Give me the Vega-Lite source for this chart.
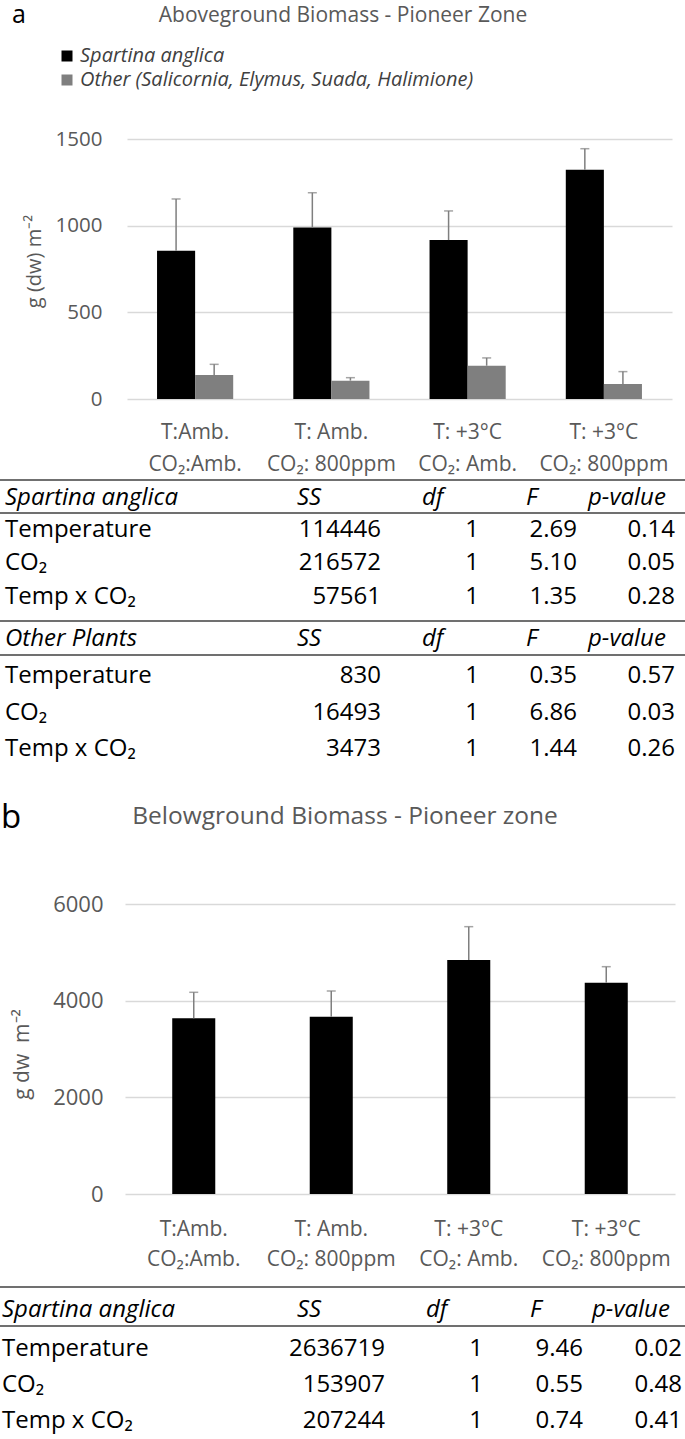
{
  "$schema": "https://vega.github.io/schema/vega-lite/v6.json",
  "width": 685,
  "height": 1439,
  "padding": 0,
  "autosize": {"type": "none"},
  "background": "#ffffff",
  "config": {"font": "Open Sans", "view": {"stroke": null}},
  "datasets": {
    "above": [
      {"treatment": "T:Amb.|CO₂:Amb.", "species": "Spartina anglica", "mean": 855, "upper": 1154},
      {"treatment": "T:Amb.|CO₂:Amb.", "species": "Other (Salicornia, Elymus, Suada, Halimione)", "mean": 138, "upper": 200},
      {"treatment": "T: Amb.|CO₂: 800ppm", "species": "Spartina anglica", "mean": 990, "upper": 1190},
      {"treatment": "T: Amb.|CO₂: 800ppm", "species": "Other (Salicornia, Elymus, Suada, Halimione)", "mean": 106, "upper": 123},
      {"treatment": "T: +3°C|CO₂: Amb.", "species": "Spartina anglica", "mean": 917, "upper": 1085},
      {"treatment": "T: +3°C|CO₂: Amb.", "species": "Other (Salicornia, Elymus, Suada, Halimione)", "mean": 192, "upper": 237},
      {"treatment": "T: +3°C|CO₂: 800ppm", "species": "Spartina anglica", "mean": 1323, "upper": 1444},
      {"treatment": "T: +3°C|CO₂: 800ppm", "species": "Other (Salicornia, Elymus, Suada, Halimione)", "mean": 87, "upper": 158}
    ],
    "below": [
      {"treatment": "T:Amb.|CO₂:Amb.", "mean": 3635, "upper": 4173},
      {"treatment": "T: Amb.|CO₂: 800ppm", "mean": 3669, "upper": 4200},
      {"treatment": "T: +3°C|CO₂: Amb.", "mean": 4841, "upper": 5531},
      {"treatment": "T: +3°C|CO₂: 800ppm", "mean": 4372, "upper": 4703}
    ],
    "cells": [
      {"tbl": "a", "row": 0, "col": 0, "role": "head", "text": "Spartina anglica"},
      {"tbl": "a", "row": 0, "col": 1, "role": "head", "text": "SS"},
      {"tbl": "a", "row": 0, "col": 2, "role": "head", "text": "df"},
      {"tbl": "a", "row": 0, "col": 3, "role": "head", "text": "F"},
      {"tbl": "a", "row": 0, "col": 4, "role": "head", "text": "p-value"},
      {"tbl": "a", "row": 1, "col": 0, "role": "label", "text": "Temperature"},
      {"tbl": "a", "row": 1, "col": 1, "role": "num", "text": "114446"},
      {"tbl": "a", "row": 1, "col": 2, "role": "num", "text": "1"},
      {"tbl": "a", "row": 1, "col": 3, "role": "num", "text": "2.69"},
      {"tbl": "a", "row": 1, "col": 4, "role": "num", "text": "0.14"},
      {"tbl": "a", "row": 2, "col": 0, "role": "label", "text": "CO₂"},
      {"tbl": "a", "row": 2, "col": 1, "role": "num", "text": "216572"},
      {"tbl": "a", "row": 2, "col": 2, "role": "num", "text": "1"},
      {"tbl": "a", "row": 2, "col": 3, "role": "num", "text": "5.10"},
      {"tbl": "a", "row": 2, "col": 4, "role": "num", "text": "0.05"},
      {"tbl": "a", "row": 3, "col": 0, "role": "label", "text": "Temp x CO₂"},
      {"tbl": "a", "row": 3, "col": 1, "role": "num", "text": "57561"},
      {"tbl": "a", "row": 3, "col": 2, "role": "num", "text": "1"},
      {"tbl": "a", "row": 3, "col": 3, "role": "num", "text": "1.35"},
      {"tbl": "a", "row": 3, "col": 4, "role": "num", "text": "0.28"},
      {"tbl": "a", "row": 4, "col": 0, "role": "head", "text": "Other Plants"},
      {"tbl": "a", "row": 4, "col": 1, "role": "head", "text": "SS"},
      {"tbl": "a", "row": 4, "col": 2, "role": "head", "text": "df"},
      {"tbl": "a", "row": 4, "col": 3, "role": "head", "text": "F"},
      {"tbl": "a", "row": 4, "col": 4, "role": "head", "text": "p-value"},
      {"tbl": "a", "row": 5, "col": 0, "role": "label", "text": "Temperature"},
      {"tbl": "a", "row": 5, "col": 1, "role": "num", "text": "830"},
      {"tbl": "a", "row": 5, "col": 2, "role": "num", "text": "1"},
      {"tbl": "a", "row": 5, "col": 3, "role": "num", "text": "0.35"},
      {"tbl": "a", "row": 5, "col": 4, "role": "num", "text": "0.57"},
      {"tbl": "a", "row": 6, "col": 0, "role": "label", "text": "CO₂"},
      {"tbl": "a", "row": 6, "col": 1, "role": "num", "text": "16493"},
      {"tbl": "a", "row": 6, "col": 2, "role": "num", "text": "1"},
      {"tbl": "a", "row": 6, "col": 3, "role": "num", "text": "6.86"},
      {"tbl": "a", "row": 6, "col": 4, "role": "num", "text": "0.03"},
      {"tbl": "a", "row": 7, "col": 0, "role": "label", "text": "Temp x CO₂"},
      {"tbl": "a", "row": 7, "col": 1, "role": "num", "text": "3473"},
      {"tbl": "a", "row": 7, "col": 2, "role": "num", "text": "1"},
      {"tbl": "a", "row": 7, "col": 3, "role": "num", "text": "1.44"},
      {"tbl": "a", "row": 7, "col": 4, "role": "num", "text": "0.26"},
      {"tbl": "b", "row": 0, "col": 0, "role": "head", "text": "Spartina anglica"},
      {"tbl": "b", "row": 0, "col": 1, "role": "head", "text": "SS"},
      {"tbl": "b", "row": 0, "col": 2, "role": "head", "text": "df"},
      {"tbl": "b", "row": 0, "col": 3, "role": "head", "text": "F"},
      {"tbl": "b", "row": 0, "col": 4, "role": "head", "text": "p-value"},
      {"tbl": "b", "row": 1, "col": 0, "role": "label", "text": "Temperature"},
      {"tbl": "b", "row": 1, "col": 1, "role": "num", "text": "2636719"},
      {"tbl": "b", "row": 1, "col": 2, "role": "num", "text": "1"},
      {"tbl": "b", "row": 1, "col": 3, "role": "num", "text": "9.46"},
      {"tbl": "b", "row": 1, "col": 4, "role": "num", "text": "0.02"},
      {"tbl": "b", "row": 2, "col": 0, "role": "label", "text": "CO₂"},
      {"tbl": "b", "row": 2, "col": 1, "role": "num", "text": "153907"},
      {"tbl": "b", "row": 2, "col": 2, "role": "num", "text": "1"},
      {"tbl": "b", "row": 2, "col": 3, "role": "num", "text": "0.55"},
      {"tbl": "b", "row": 2, "col": 4, "role": "num", "text": "0.48"},
      {"tbl": "b", "row": 3, "col": 0, "role": "label", "text": "Temp x CO₂"},
      {"tbl": "b", "row": 3, "col": 1, "role": "num", "text": "207244"},
      {"tbl": "b", "row": 3, "col": 2, "role": "num", "text": "1"},
      {"tbl": "b", "row": 3, "col": 3, "role": "num", "text": "0.74"},
      {"tbl": "b", "row": 3, "col": 4, "role": "num", "text": "0.41"}
    ],
    "lines": [
      {"tbl": "a", "row": -0.5},
      {"tbl": "a", "row": 0.5},
      {"tbl": "a", "row": 3.5},
      {"tbl": "a", "row": 4.5},
      {"tbl": "b", "row": -0.5},
      {"tbl": "b", "row": 0.5}
    ],
    "captions": [
      {"panel": "a", "letter": "a", "text": "Aboveground Biomass - Pioneer Zone"},
      {"panel": "b", "letter": "b", "text": "Belowground Biomass - Pioneer zone"}
    ]
  },
  "layer": [
    {
      "data": {"name": "above"},
      "encoding": {
        "x": {"field": "treatment", "type": "nominal", "sort": null,
          "scale": {"range": [127, 672], "paddingInner": 0.441, "paddingOuter": 0.2205},
          "axis": {"orient": "bottom", "offset": -1040, "labelExpr": "split(datum.value, '|')", "labelAngle": 0, "labelFontSize": 21, "labelColor": "#595959", "labelPadding": 22, "labelLineHeight": 32, "labelOverlap": false, "domain": false, "ticks": false, "tickSize": 0, "grid": false, "title": null}},
        "xOffset": {"field": "species", "type": "nominal", "sort": null, "scale": {"paddingInner": 0, "paddingOuter": 0}}
      },
      "layer": [
        {
          "mark": {"type": "bar"},
          "encoding": {
            "y": {"field": "mean", "type": "quantitative", "title": "g (dw) m⁻²",
              "scale": {"domain": [0, 1500], "range": [399, 139], "nice": false, "zero": true},
              "axis": {"orient": "left", "offset": -127, "values": [0, 500, 1000, 1500], "format": "d", "domain": false, "ticks": false, "tickSize": 0, "labelPadding": 25, "labelFontSize": 20.5, "labelColor": "#595959", "labelOverlap": false, "grid": true, "gridColor": "#d9d9d9", "gridWidth": 1.5, "titleFontSize": 20, "titleFontWeight": "normal", "titleColor": "#595959", "titlePadding": 11, "titleY": 261}},
            "color": {"field": "species", "type": "nominal", "sort": null,
              "scale": {"domain": ["Spartina anglica", "Other (Salicornia, Elymus, Suada, Halimione)"], "range": ["#000000", "#7f7f7f"]},
              "legend": {"orient": "none", "legendX": 57, "legendY": 46, "padding": 0, "title": null, "symbolType": "square", "symbolSize": 121, "symbolStrokeWidth": 0, "labelFontSize": 20, "labelFontStyle": "italic", "labelColor": "#404040", "labelOffset": 3, "rowPadding": 4, "labelLimit": 0}}
          }
        },
        {
          "mark": {"type": "rule", "color": "#7f7f7f", "strokeWidth": 1.5},
          "encoding": {
            "y": {"field": "mean", "type": "quantitative", "title": "g (dw) m⁻²"},
            "y2": {"field": "upper"}
          }
        },
        {
          "mark": {"type": "tick", "color": "#7f7f7f", "thickness": 1.5, "size": 9, "orient": "horizontal"},
          "encoding": {
            "y": {"field": "upper", "type": "quantitative", "title": "g (dw) m⁻²"}
          }
        }
      ]
    },
    {
      "data": {"name": "below"},
      "encoding": {
        "x": {"field": "treatment", "type": "nominal", "sort": null,
          "scale": {"range": [125, 675], "paddingInner": 0.687, "paddingOuter": 0.3435},
          "axis": {"orient": "bottom", "offset": -245, "labelExpr": "split(datum.value, '|')", "labelAngle": 0, "labelFontSize": 21, "labelColor": "#595959", "labelPadding": 24, "labelLineHeight": 30, "labelOverlap": false, "domain": false, "ticks": false, "tickSize": 0, "grid": false, "title": null}}
      },
      "layer": [
        {
          "mark": {"type": "bar", "color": "#000000"},
          "encoding": {
            "y": {"field": "mean", "type": "quantitative", "title": "g dw\u00a0\u00a0m⁻²",
              "scale": {"domain": [0, 6000], "range": [1194, 904], "nice": false, "zero": true},
              "axis": {"orient": "left", "offset": -126, "values": [0, 2000, 4000, 6000], "format": "d", "domain": false, "ticks": false, "tickSize": 0, "labelPadding": 23, "labelFontSize": 22, "labelColor": "#595959", "labelOverlap": false, "grid": true, "gridColor": "#d9d9d9", "gridWidth": 1.5, "titleFontSize": 21, "titleFontWeight": "normal", "titleColor": "#595959", "titlePadding": 20, "titleY": 1054}}
          }
        },
        {
          "mark": {"type": "rule", "color": "#7f7f7f", "strokeWidth": 1.5},
          "encoding": {
            "y": {"field": "mean", "type": "quantitative", "title": "g dw\u00a0\u00a0m⁻²"},
            "y2": {"field": "upper"}
          }
        },
        {
          "mark": {"type": "tick", "color": "#7f7f7f", "thickness": 1.5, "size": 9, "orient": "horizontal"},
          "encoding": {
            "y": {"field": "upper", "type": "quantitative", "title": "g dw\u00a0\u00a0m⁻²"}
          }
        }
      ]
    },
    {
      "layer": [
        {
          "layer": [
            {
              "data": {"name": "cells"},
              "transform": [{"filter": "datum.tbl === 'a' && datum.role === 'head'"}],
              "mark": {"type": "text", "align": "left", "baseline": "middle", "fontSize": 24, "fontStyle": "italic", "color": "#000000"},
              "encoding": {
                "x": {"field": "col", "type": "quantitative", "scale": {"domain": [0, 1, 2, 3, 4], "range": [5, 297, 422, 526, 588], "zero": false, "nice": false}, "axis": null},
                "y": {"field": "row", "type": "quantitative", "scale": {"domain": [-0.5, 0, 0.5, 1, 2, 3, 3.5, 4, 4.5, 5, 6, 7], "range": [480, 498, 513, 530, 563, 597, 621, 639, 655, 676, 713, 749], "zero": false, "nice": false}, "axis": null},
                "text": {"field": "text"}
              }
            },
            {
              "data": {"name": "cells"},
              "transform": [{"filter": "datum.tbl === 'a' && datum.role === 'label'"}],
              "mark": {"type": "text", "align": "left", "baseline": "middle", "fontSize": 24, "color": "#000000"},
              "encoding": {
                "x": {"field": "col", "type": "quantitative", "axis": null},
                "y": {"field": "row", "type": "quantitative", "axis": null},
                "text": {"field": "text"}
              }
            }
          ]
        },
        {
          "data": {"name": "cells"},
          "transform": [{"filter": "datum.tbl === 'a' && datum.role === 'num'"}],
          "mark": {"type": "text", "align": "right", "baseline": "middle", "fontSize": 24, "color": "#000000"},
          "encoding": {
            "x": {"field": "col", "type": "quantitative", "scale": {"domain": [1, 2, 3, 4], "range": [381, 479, 577, 675], "zero": false, "nice": false}, "axis": null},
            "y": {"field": "row", "type": "quantitative", "axis": null},
            "text": {"field": "text"}
          }
        },
        {
          "data": {"name": "lines"},
          "transform": [{"filter": "datum.tbl === 'a'"}],
          "mark": {"type": "rule", "color": "#404040", "strokeWidth": 1.5},
          "encoding": {
            "y": {"field": "row", "type": "quantitative", "axis": null}
          }
        }
      ],
      "resolve": {"scale": {"x": "independent"}}
    },
    {
      "layer": [
        {
          "layer": [
            {
              "data": {"name": "cells"},
              "transform": [{"filter": "datum.tbl === 'b' && datum.role === 'head'"}],
              "mark": {"type": "text", "align": "left", "baseline": "middle", "fontSize": 24, "fontStyle": "italic", "color": "#000000"},
              "encoding": {
                "x": {"field": "col", "type": "quantitative", "scale": {"domain": [0, 1, 2, 3, 4], "range": [2, 297, 426, 530, 592], "zero": false, "nice": false}, "axis": null},
                "y": {"field": "row", "type": "quantitative", "scale": {"domain": [-0.5, 0, 0.5, 1, 2, 3], "range": [1287, 1310, 1326, 1349, 1385, 1421], "zero": false, "nice": false}, "axis": null},
                "text": {"field": "text"}
              }
            },
            {
              "data": {"name": "cells"},
              "transform": [{"filter": "datum.tbl === 'b' && datum.role === 'label'"}],
              "mark": {"type": "text", "align": "left", "baseline": "middle", "fontSize": 24, "color": "#000000"},
              "encoding": {
                "x": {"field": "col", "type": "quantitative", "axis": null},
                "y": {"field": "row", "type": "quantitative", "axis": null},
                "text": {"field": "text"}
              }
            }
          ]
        },
        {
          "data": {"name": "cells"},
          "transform": [{"filter": "datum.tbl === 'b' && datum.role === 'num'"}],
          "mark": {"type": "text", "align": "right", "baseline": "middle", "fontSize": 24, "color": "#000000"},
          "encoding": {
            "x": {"field": "col", "type": "quantitative", "scale": {"domain": [1, 2, 3, 4], "range": [385, 483, 583, 682], "zero": false, "nice": false}, "axis": null},
            "y": {"field": "row", "type": "quantitative", "axis": null},
            "text": {"field": "text"}
          }
        },
        {
          "data": {"name": "lines"},
          "transform": [{"filter": "datum.tbl === 'b'"}],
          "mark": {"type": "rule", "color": "#404040", "strokeWidth": 1.5},
          "encoding": {
            "y": {"field": "row", "type": "quantitative", "axis": null}
          }
        }
      ],
      "resolve": {"scale": {"x": "independent"}}
    },
    {
      "data": {"name": "captions"},
      "mark": {"type": "text", "align": "center", "baseline": "alphabetic", "color": "#595959"},
      "encoding": {
        "x": {"field": "panel", "type": "nominal", "scale": {"type": "point", "domain": ["a", "b"], "range": [343, 345], "padding": 0}, "axis": null},
        "y": {"field": "panel", "type": "nominal", "scale": {"type": "point", "domain": ["a", "b"], "range": [22, 824], "padding": 0}, "axis": null},
        "size": {"field": "panel", "type": "nominal", "scale": {"type": "ordinal", "domain": ["a", "b"], "range": [21, 24.5]}, "legend": null},
        "text": {"field": "text"}
      }
    },
    {
      "data": {"name": "captions"},
      "mark": {"type": "text", "align": "left", "baseline": "alphabetic", "color": "#000000"},
      "encoding": {
        "x": {"field": "panel", "type": "nominal", "scale": {"type": "point", "domain": ["a", "b"], "range": [12, 1], "padding": 0}, "axis": null},
        "y": {"field": "panel", "type": "nominal", "scale": {"type": "point", "domain": ["a", "b"], "range": [23, 828], "padding": 0}, "axis": null},
        "size": {"field": "panel", "type": "nominal", "scale": {"type": "ordinal", "domain": ["a", "b"], "range": [25, 33]}, "legend": null},
        "text": {"field": "letter"}
      }
    }
  ],
  "resolve": {
    "scale": {"x": "independent", "y": "independent", "color": "independent", "size": "independent"},
    "axis": {"x": "independent", "y": "independent"}
  }
}
